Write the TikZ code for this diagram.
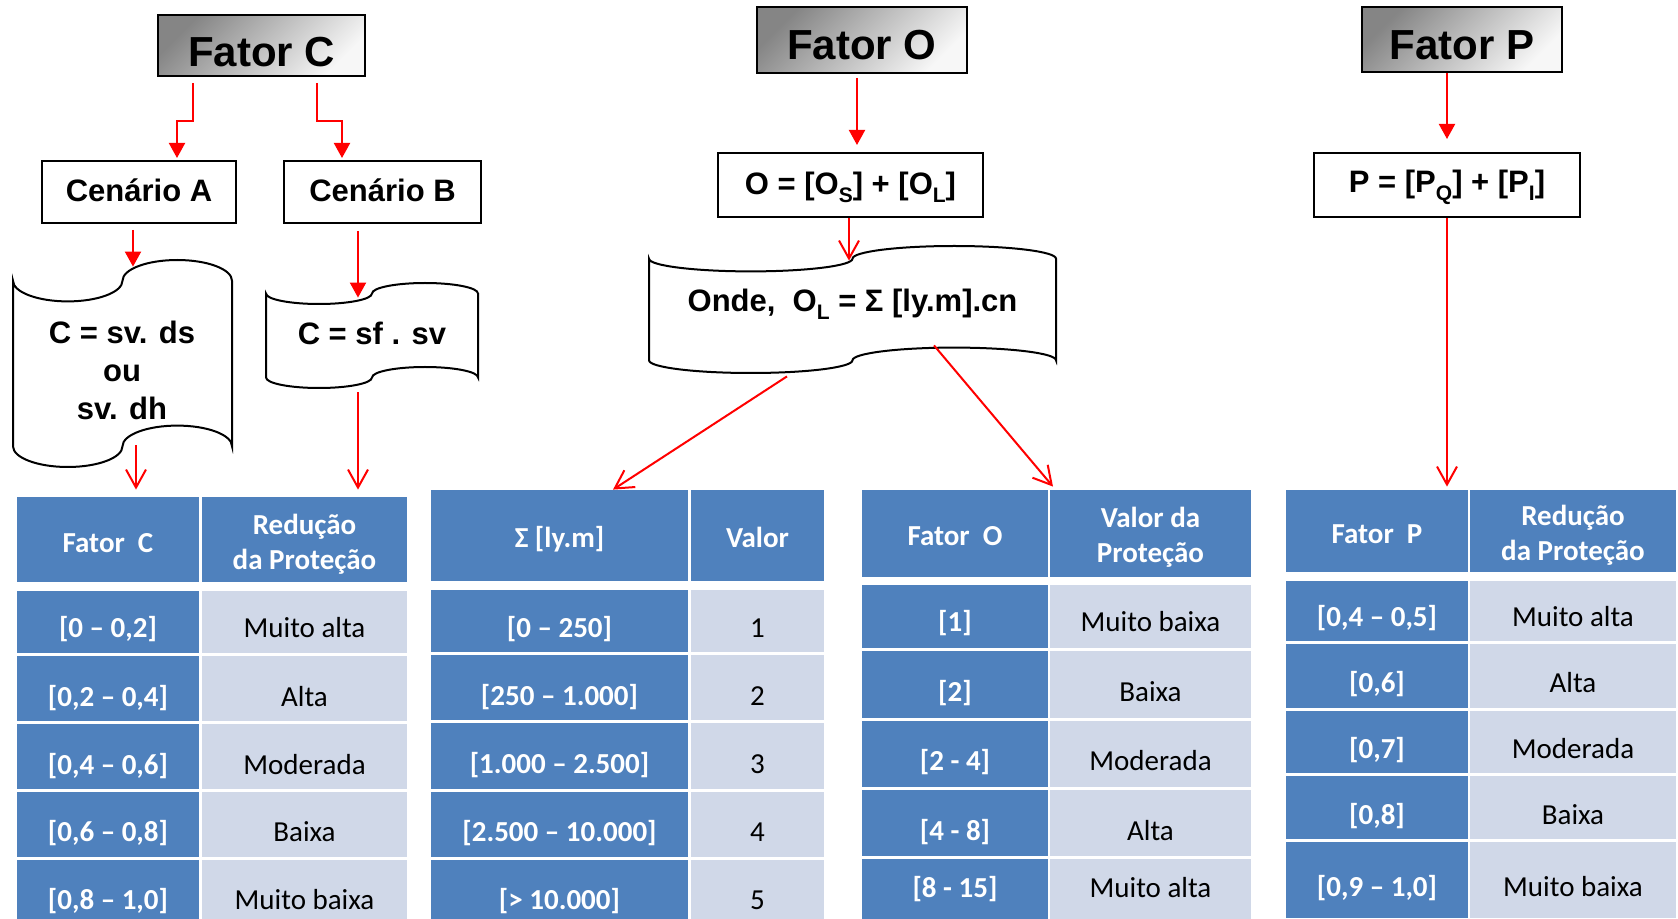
\documentclass[tikz,border=0pt]{standalone}
\usepackage{fontspec}
\setmainfont{Liberation Sans}
\newfontfamily\calib{Carlito}
\usetikzlibrary{arrows.meta}
\definecolor{tblue}{HTML}{4F81BD}
\definecolor{tlight}{HTML}{D0D8E8}
\definecolor{ared}{HTML}{FF0000}
\newcommand\mysub[1]{\raisebox{-4pt}{\fontsize{10.5pt}{12pt}\selectfont #1}}
% cell/box: name, x0, y0, x1, y1, style, baseline y, text
\newcommand\tcell[8]{%
  \pgfmathsetmacro\zzcx{(#2+#4)/2}%
  \pgfmathsetmacro\zzcy{(#3+#5)/2}%
  \pgfmathsetmacro\zzcw{(#4-#2)/2}%
  \pgfmathsetmacro\zzch{(#5-#3)/2}%
  \pgfmathsetmacro\zzco{#7-\zzcy}%
  \node[#6, minimum width=\zzcw pt, minimum height=\zzch pt, text height=\zzco pt, text depth=0pt] (#1) at (\zzcx,\zzcy) {#8};%
}
% punched tape: name, x0, ytop, x1, ybot
\newcommand\tapeshape[5]{%
  \pgfmathsetmacro\zztw{(#4-#2)/4}%
  \pgfmathsetmacro\zzta{(#5-#3)/10}%
  \pgfmathsetmacro\zzkw{0.5523*\zztw}%
  \pgfmathsetmacro\zzka{0.5523*\zzta}%
  \pgfmathsetmacro\zzxb{#2+\zztw}%
  \pgfmathsetmacro\zzxc{#2+2*\zztw}%
  \pgfmathsetmacro\zzxd{#2+3*\zztw}%
  \pgfmathsetmacro\zzya{#3+\zzta}%
  \pgfmathsetmacro\zzyb{#3+2*\zzta}%
  \pgfmathsetmacro\zzyc{#5-\zzta}%
  \pgfmathsetmacro\zzyd{#5-2*\zzta}%
  \draw[tapeline] (#2,\zzya)
    .. controls (#2,\zzya+\zzka) and (\zzxb-\zzkw,\zzyb) .. (\zzxb,\zzyb)
    .. controls (\zzxb+\zzkw,\zzyb) and (\zzxc,\zzya+\zzka) .. (\zzxc,\zzya)
    .. controls (\zzxc,\zzya-\zzka) and (\zzxd-\zzkw,#3) .. (\zzxd,#3)
    .. controls (\zzxd+\zzkw,#3) and (#4,\zzya-\zzka) .. (#4,\zzya)
    -- (#4,\zzyc)
    .. controls (#4,\zzyc-\zzka) and (\zzxd+\zzkw,\zzyd) .. (\zzxd,\zzyd)
    .. controls (\zzxd-\zzkw,\zzyd) and (\zzxc,\zzyc-\zzka) .. (\zzxc,\zzyc)
    .. controls (\zzxc,\zzyc+\zzka) and (\zzxb+\zzkw,#5) .. (\zzxb,#5)
    .. controls (\zzxb-\zzkw,#5) and (#2,\zzyc+\zzka) .. (#2,\zzyc)
    -- cycle;
  \pgfmathsetmacro\zzcx{(#2+#4)/2}%
  \pgfmathsetmacro\zzcy{(#3+#5)/2}%
  \pgfmathsetmacro\zzcw{(#4-#2)/2}%
  \pgfmathsetmacro\zzch{(#5-#3)/2}%
  \node[inner sep=0pt, minimum width=\zzcw pt, minimum height=\zzch pt] (#1) at (\zzcx,\zzcy) {};%
}
\begin{document}
\begin{tikzpicture}[x=0.5pt,y=-0.5pt,
  titlebox/.style={draw=black, line width=1pt, top color=black!48, bottom color=black!3, shading angle=45, inner sep=0pt, font=\bfseries\fontsize{21pt}{25pt}\selectfont},
  plainbox/.style={draw=black, line width=1pt, fill=white, inner sep=0pt, font=\bfseries\fontsize{15.5pt}{19pt}\selectfont},
  tapeline/.style={draw=black, line width=1pt, fill=white},
  doctxt/.style={inner sep=0pt, align=center, font=\bfseries\fontsize{15.5pt}{19pt}\selectfont},
  hdr/.style={fill=tblue, text=white, inner sep=0pt, font=\calib\bfseries\fontsize{14.5pt}{17.5pt}\selectfont},
  lite/.style={fill=tlight, text=black, inner sep=0pt, font=\calib\fontsize{14.5pt}{17.5pt}\selectfont},
  hdrtxt/.style={text=white, inner sep=0pt, align=center, font=\calib\bfseries\fontsize{14.5pt}{17.5pt}\selectfont},
  arrF/.style={draw=ared, line width=1pt, -{Triangle[width=8pt,length=7.5pt]}},
  arrV/.style={draw=ared, line width=1pt, -{Straight Barb[width=10pt,length=9pt]}}
]
\path[fill=white,use as bounding box] (0,0) rectangle (1678,919);

% ---- top boxes
\tcell{fc}{158}{15}{365}{76}{titlebox}{67}{Fator C}
\tcell{fo}{757}{7}{967}{73}{titlebox}{59.3}{Fator O}
\tcell{fp}{1362}{7}{1562}{72}{titlebox}{59.3}{Fator P}
\tcell{cenA}{42}{161}{236}{223}{plainbox}{202}{Cenário A}
\tcell{cenB}{284}{161}{481}{223}{plainbox}{202}{Cenário B}
\tcell{oeq}{718}{153}{983}{217}{plainbox}{195}{O = [O\mysub{S}] + [O\mysub{L}]}
\tcell{peq}{1314}{153}{1580}{217}{plainbox}{193}{P = [P\mysub{Q}] + [P\mysub{I}]}

% ---- tapes
\tapeshape{docA}{13}{260}{232}{467}
\node[doctxt] (docAt) at (122,370) {C = sv. ds\\ou\\sv. dh};
\tapeshape{docB}{266}{283}{478}{388}
\node[doctxt, anchor=base] (docBt) at (372,345) {C = sf . sv};
\tapeshape{docO}{649}{246}{1056}{373}
\node[doctxt, anchor=base] (docOt) at (852.5,312) {Onde,\ \ O\mysub{L} = Σ [ly.m].cn};

% ---- table C
\tcell{tch1}{17}{497}{199}{582}{hdr}{552.3}{Fator~~C}
\tcell{tch2}{202}{497}{407}{582}{hdr}{552.3}{}
\node[hdrtxt] (tch2t) at (304.5,544.5) {Redução\\da Proteção};
\tcell{tc11}{17}{591}{199}{653}{hdr}{637.3}{[0 – 0,2]}
\tcell{tc12}{202}{591}{407}{653}{lite}{637.3}{Muito alta}
\tcell{tc21}{17}{656}{199}{721}{hdr}{706.3}{[0,2 – 0,4]}
\tcell{tc22}{202}{656}{407}{721}{lite}{706.3}{Alta}
\tcell{tc31}{17}{724}{199}{789}{hdr}{774.3}{[0,4 – 0,6]}
\tcell{tc32}{202}{724}{407}{789}{lite}{774.3}{Moderada}
\tcell{tc41}{17}{792}{199}{857}{hdr}{841.3}{[0,6 – 0,8]}
\tcell{tc42}{202}{792}{407}{857}{lite}{841.3}{Baixa}
\tcell{tc51}{17}{860}{199}{919}{hdr}{909.3}{[0,8 – 1,0]}
\tcell{tc52}{202}{860}{407}{919}{lite}{909.3}{Muito baixa}

% ---- table Sigma
\tcell{tsh1}{431}{490}{688}{581}{hdr}{547.3}{Σ [ly.m]}
\tcell{tsh2}{691}{490}{824}{581}{hdr}{547.3}{Valor}
\tcell{ts11}{431}{590}{688}{652}{hdr}{637.3}{[0 – 250]}
\tcell{ts12}{691}{590}{824}{652}{lite}{637.3}{1}
\tcell{ts21}{431}{655}{688}{720}{hdr}{705.3}{[250 – 1.000]}
\tcell{ts22}{691}{655}{824}{720}{lite}{705.3}{2}
\tcell{ts31}{431}{723}{688}{789}{hdr}{773.3}{[1.000 – 2.500]}
\tcell{ts32}{691}{723}{824}{789}{lite}{773.3}{3}
\tcell{ts41}{431}{792}{688}{857}{hdr}{841.3}{[2.500 – 10.000]}
\tcell{ts42}{691}{792}{824}{857}{lite}{841.3}{4}
\tcell{ts51}{431}{860}{688}{919}{hdr}{909.3}{[> 10.000]}
\tcell{ts52}{691}{860}{824}{919}{lite}{909.3}{5}

% ---- table O
\tcell{toh1}{862}{490}{1048}{577}{hdr}{545.3}{Fator~~O}
\tcell{toh2}{1050}{490}{1251}{577}{hdr}{545.3}{}
\node[hdrtxt] (toh2t) at (1150.5,537.5) {Valor da\\Proteção};
\tcell{to11}{862}{585}{1048}{648}{hdr}{631.3}{[1]}
\tcell{to12}{1050}{585}{1251}{648}{lite}{631.3}{Muito baixa}
\tcell{to21}{862}{651}{1048}{718}{hdr}{701.3}{[2]}
\tcell{to22}{1050}{651}{1251}{718}{lite}{701.3}{Baixa}
\tcell{to31}{862}{721}{1048}{787}{hdr}{770.3}{[2 - 4]}
\tcell{to32}{1050}{721}{1251}{787}{lite}{770.3}{Moderada}
\tcell{to41}{862}{790}{1048}{856}{hdr}{840.3}{[4 - 8]}
\tcell{to42}{1050}{790}{1251}{856}{lite}{840.3}{Alta}
\tcell{to51}{862}{859}{1048}{919}{hdr}{897.3}{[8 - 15]}
\tcell{to52}{1050}{859}{1251}{919}{lite}{897.3}{Muito alta}

% ---- table P
\tcell{tph1}{1286}{490}{1468}{572}{hdr}{543.3}{Fator~~P}
\tcell{tph2}{1470}{490}{1676}{572}{hdr}{543.3}{}
\node[hdrtxt] (tph2t) at (1573,535.5) {Redução\\da Proteção};
\tcell{tp11}{1286}{581}{1468}{641}{hdr}{626.3}{[0,4 – 0,5]}
\tcell{tp12}{1470}{581}{1676}{641}{lite}{626.3}{Muito alta}
\tcell{tp21}{1286}{644}{1468}{708}{hdr}{692.3}{[0,6]}
\tcell{tp22}{1470}{644}{1676}{708}{lite}{692.3}{Alta}
\tcell{tp31}{1286}{711}{1468}{773}{hdr}{758.3}{[0,7]}
\tcell{tp32}{1470}{711}{1676}{773}{lite}{758.3}{Moderada}
\tcell{tp41}{1286}{776}{1468}{839}{hdr}{824.3}{[0,8]}
\tcell{tp42}{1470}{776}{1676}{839}{lite}{824.3}{Baixa}
\tcell{tp51}{1286}{842}{1468}{918}{hdr}{896.3}{[0,9 – 1,0]}
\tcell{tp52}{1470}{842}{1676}{918}{lite}{896.3}{Muito baixa}

% ---- connectors
\draw[arrF] ([xshift=-34.25pt,yshift=-3pt]fc.south) -- ++(0,38) -| ([xshift=19pt,yshift=1pt]cenA.north);
\draw[arrF] ([xshift=27.75pt,yshift=-3pt]fc.south) -- ++(0,38) -| ([xshift=-20.25pt,yshift=1pt]cenB.north);
\draw[arrF] ([xshift=-2.5pt,yshift=-2pt]fo.south) -- ([xshift=3.25pt,yshift=3.5pt]oeq.north);
\draw[arrF] ([xshift=-7.5pt]fp.south) -- ([yshift=6.5pt]peq.north);
\draw[arrF] ([xshift=-3pt,yshift=-3pt]cenA.south) -- ([xshift=5.25pt,yshift=-3.5pt]docA.north);
\draw[arrF] ([xshift=-12.25pt,yshift=-3.5pt]cenB.south) -- ([xshift=-7pt,yshift=-7.5pt]docB.north);
\draw[arrV] ([xshift=-0.75pt]oeq.south) -- ([xshift=-1.75pt,yshift=-7.5pt]docO.north);
\draw[arrV] ([xshift=6.75pt,yshift=11pt]docA.south) -- ([xshift=14pt,yshift=3.5pt]tch1.north);
\draw[arrV] ([xshift=-7pt,yshift=-2pt]docB.south) -- ([xshift=26.75pt,yshift=3.5pt]tch2.north);
\draw[arrV] ([xshift=-32.75pt,yshift=-1.5pt]docO.south) -- ([xshift=26.75pt]tsh1.north);
\draw[arrV] ([xshift=40.75pt,yshift=14pt]docO.south) -- ([xshift=-48.75pt,yshift=1.5pt]toh2.north);
\draw[arrV] (peq.south) -- ([xshift=35pt,yshift=1.5pt]tph1.north);
\end{tikzpicture}
\end{document}
